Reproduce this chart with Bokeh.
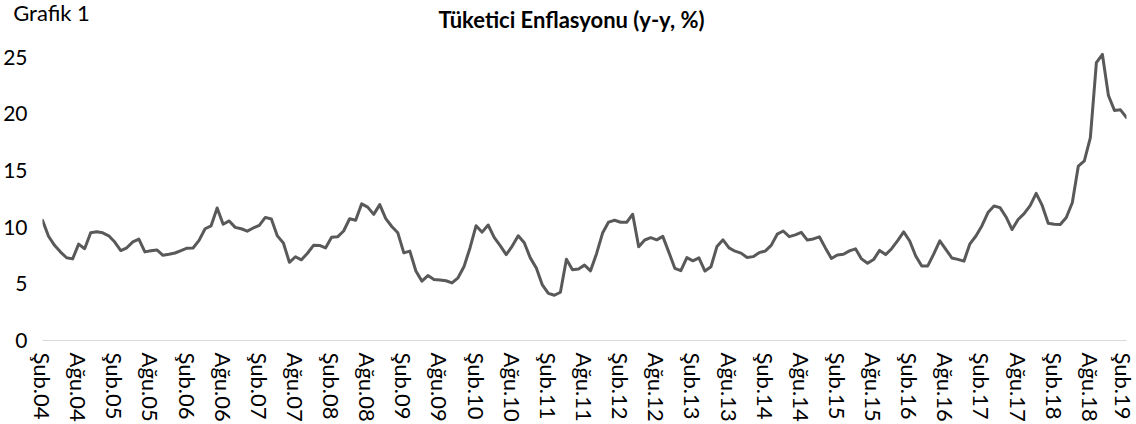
from bokeh.plotting import figure
from bokeh.models import Range1d, FixedTicker, Label
from bokeh.layouts import column
from bokeh.embed import file_html
from bokeh.resources import INLINE

# Tüketici enflasyonu (y-y, %), aylık, Şubat 2004 - Şubat 2019
inf_2004 = [10.6, 9.2, 8.4, 7.8, 7.3, 7.2, 8.5, 8.1, 9.5, 9.6, 9.5]
inf_2005 = [9.24, 8.69, 7.94, 8.18, 8.70, 8.95, 7.82, 7.91, 7.99, 7.52, 7.61, 7.72]
inf_2006 = [7.93, 8.15, 8.16, 8.83, 9.86, 10.12, 11.69, 10.26, 10.55, 9.98, 9.86, 9.65]
inf_2007 = [9.93, 10.16, 10.86, 10.72, 9.23, 8.60, 6.90, 7.39, 7.12, 7.70, 8.40, 8.39]
inf_2008 = [8.17, 9.10, 9.15, 9.66, 10.74, 10.61, 12.06, 11.77, 11.13, 11.99, 10.76, 10.06]
inf_2009 = [9.50, 7.73, 7.89, 6.13, 5.24, 5.73, 5.39, 5.33, 5.27, 5.08, 5.53, 6.53]
inf_2010 = [8.19, 10.13, 9.56, 10.19, 9.10, 8.37, 7.58, 8.33, 9.24, 8.62, 7.29, 6.40]
inf_2011 = [4.90, 4.16, 3.99, 4.26, 7.17, 6.24, 6.31, 6.65, 6.15, 7.66, 9.48, 10.45]
inf_2012 = [10.61, 10.43, 10.43, 11.14, 8.28, 8.87, 9.07, 8.88, 9.19, 7.80, 6.37, 6.16]
inf_2013 = [7.31, 7.03, 7.29, 6.13, 6.51, 8.30, 8.88, 8.17, 7.88, 7.71, 7.32, 7.40]
inf_2014 = [7.75, 7.89, 8.39, 9.38, 9.66, 9.16, 9.32, 9.54, 8.86, 8.96, 9.15, 8.17]
inf_2015 = [7.24, 7.55, 7.61, 7.91, 8.09, 7.20, 6.81, 7.14, 7.95, 7.58, 8.10, 8.81]
inf_2016 = [9.58, 8.78, 7.46, 6.57, 6.58, 7.64, 8.79, 8.05, 7.28, 7.16, 7.00, 8.53]
inf_2017 = [9.22, 10.13, 11.29, 11.87, 11.72, 10.90, 9.79, 10.68, 11.20, 11.90, 12.98, 11.92]
inf_2018 = [10.35, 10.26, 10.23, 10.85, 12.15, 15.39, 15.85, 17.90, 24.52, 25.24, 21.62, 20.30]
inf_2019 = [20.35, 19.67]

values = (inf_2004 + inf_2005 + inf_2006 + inf_2007 + inf_2008 + inf_2009 + inf_2010
          + inf_2011 + inf_2012 + inf_2013 + inf_2014 + inf_2015 + inf_2016 + inf_2017
          + inf_2018 + inf_2019)
months = list(range(len(values)))

tick_labels = ["Şub.04", "Ağu.04", "Şub.05", "Ağu.05", "Şub.06", "Ağu.06", "Şub.07", "Ağu.07",
               "Şub.08", "Ağu.08", "Şub.09", "Ağu.09", "Şub.10", "Ağu.10", "Şub.11", "Ağu.11",
               "Şub.12", "Ağu.12", "Şub.13", "Ağu.13", "Şub.14", "Ağu.14", "Şub.15", "Ağu.15",
               "Şub.16", "Ağu.16", "Şub.17", "Ağu.17", "Şub.18", "Ağu.18", "Şub.19"]
tick_pos = [6 * i for i in range(len(tick_labels))]
y_ticks = [0, 5, 10, 15, 20, 25]

chart_label = "Grafik 1"
chart_title = "Tüketici Enflasyonu (y-y, %)"

FONT = "Lato"
W = 1136
HEAD_H = 44

# header with the two titles
head = figure(width=W, height=HEAD_H, output_backend="svg", toolbar_location=None,
              x_range=Range1d(0, W), y_range=Range1d(HEAD_H, 0),
              x_axis_type=None, y_axis_type=None,
              min_border_left=0, min_border_right=0, min_border_top=0, min_border_bottom=0)
head.frame_align = False
head.outline_line_color = None
head.xgrid.grid_line_color = None
head.ygrid.grid_line_color = None
head.add_layout(Label(x=12.7, y=12.2, text=chart_label, text_font=FONT, text_font_size="22px",
                     text_color="#000000", text_align="left", text_baseline="alphabetic"))
head.add_layout(Label(x=571, y=19.3, text=chart_title, text_font=FONT, text_font_size="22px",
                     text_font_style="bold", text_color="#000000",
                     text_align="center", text_baseline="alphabetic"))

# main chart
p = figure(width=W, height=424 - HEAD_H, output_backend="svg", toolbar_location=None,
           x_range=Range1d(0, len(values) - 1), y_range=Range1d(0, 25.5),
           min_border_left=42, min_border_right=10, min_border_top=7, min_border_bottom=82)
p.frame_align = False
p.outline_line_color = None
p.xgrid.grid_line_color = None
p.ygrid.grid_line_color = None

p.line(months, values, line_color="#595959", line_width=3, line_join="round", line_cap="round")

xa = p.xaxis[0]
xa.ticker = FixedTicker(ticks=tick_pos)
xa.major_label_overrides = {t: l for t, l in zip(tick_pos, tick_labels)}
xa.major_label_orientation = "vertical"
xa.axis_line_color = "#d9d9d9"
xa.axis_line_width = 1
xa.major_tick_line_color = None
xa.minor_tick_line_color = None
xa.major_tick_out = 0
xa.major_tick_in = 0
xa.minor_tick_out = 0
xa.major_label_text_font = FONT
xa.major_label_text_font_size = "22px"
xa.major_label_text_color = "#000000"
xa.major_label_standoff = 12

ya = p.yaxis[0]
ya.ticker = FixedTicker(ticks=y_ticks)
ya.axis_line_color = None
ya.major_tick_line_color = None
ya.minor_tick_line_color = None
ya.major_tick_out = 0
ya.major_tick_in = 0
ya.minor_tick_out = 0
ya.major_label_text_font = FONT
ya.major_label_text_font_size = "21px"
ya.major_label_text_color = "#000000"
ya.major_label_standoff = 15

open("out.html", "w").write(file_html(column(head, p, spacing=0), INLINE))
